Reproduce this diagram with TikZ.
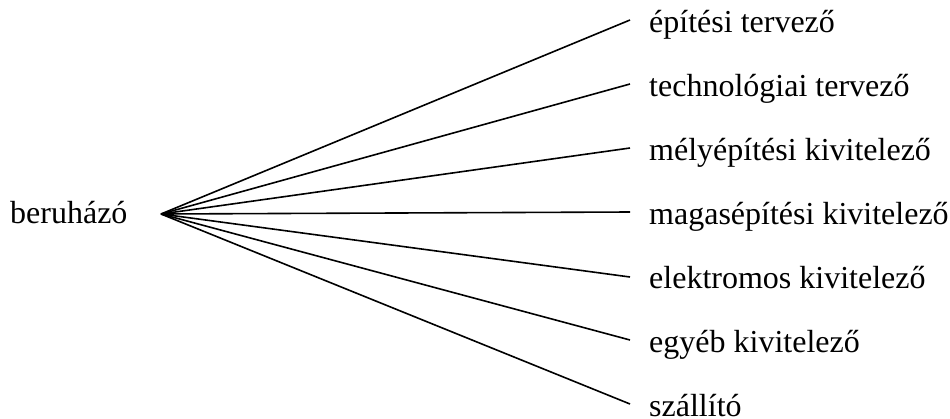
\documentclass[tikz,border=0pt]{standalone}
\usepackage{fontspec}
\setmainfont{Liberation Serif}
\begin{document}
\begin{tikzpicture}[x=1pt,y=-1pt,
  lbl/.style={anchor=base west,inner sep=0pt,font=\fontsize{32}{38}\selectfont},
  ray/.style={line width=1.6pt}]
\useasboundingbox (0,0) rectangle (950,418);
\node[lbl] (b) at (10,223) {beruházó};
\coordinate (o) at (161,214);
\node[lbl] (t1) at (649,32) {építési tervező};
\node[lbl] (t2) at (649,96) {technológiai tervező};
\node[lbl] (t3) at (649,160) {mélyépítési kivitelező};
\node[lbl] (t4) at (649,224) {magasépítési kivitelező};
\node[lbl] (t5) at (649,288) {elektromos kivitelező};
\node[lbl] (t6) at (649,352) {egyéb kivitelező};
\node[lbl] (t7) at (649,416) {szállító};
\coordinate (e1) at (630,20);
\coordinate (e2) at (630,84);
\coordinate (e3) at (630,148);
\coordinate (e4) at (630,212);
\coordinate (e5) at (630,277);
\coordinate (e6) at (630,340);
\coordinate (e7) at (630,404);
\foreach \i in {1,...,7} \draw[ray] (o) -- (e\i);
\end{tikzpicture}
\end{document}
